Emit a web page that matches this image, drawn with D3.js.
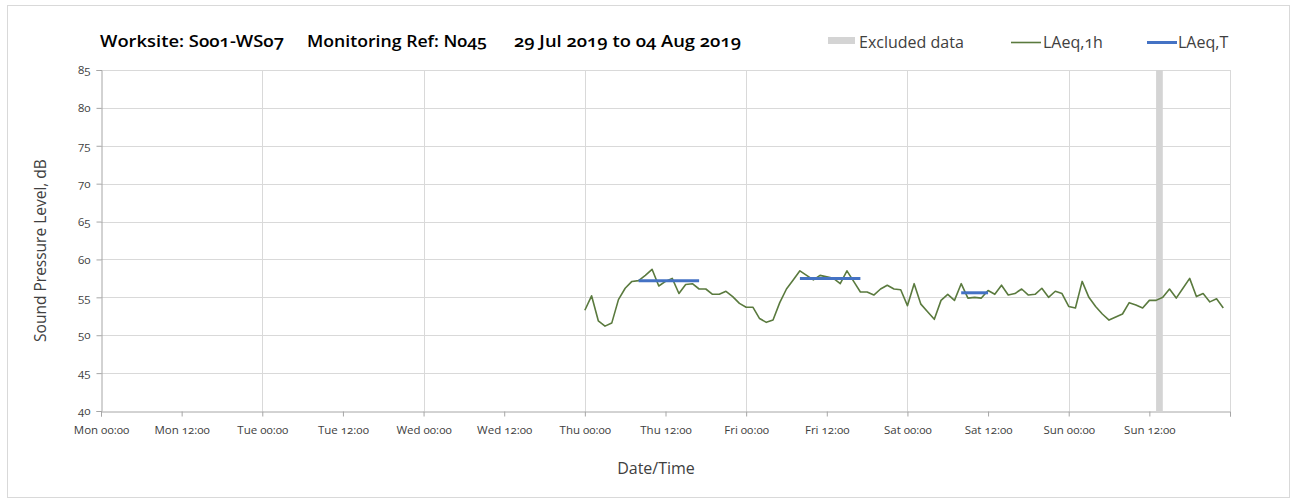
<!DOCTYPE html>
<html>
<head>
<meta charset="utf-8">
<script src="https://cdn.jsdelivr.net/npm/d3@7"></script>
<style>
  html, body { margin: 0; padding: 0; background: #fff; }
  svg text { font-family: "Open Sans", Lato, "Noto Sans", sans-serif; font-variant-numeric: oldstyle-nums; font-feature-settings: "onum" 1; }
</style>
</head>
<body>
<svg id="chart" width="1298" height="504"></svg>
<script>
// ---------------- DATA ----------------
const titleParts = ["Worksite: S001-WS07", "Monitoring Ref: N045", "29 Jul 2019 to 04 Aug 2019"];
const yLabel = "Sound Pressure Level, dB";
const xLabel = "Date/Time";
const legendLabels = ["Excluded data", "LAeq,1h", "LAeq,T"];

const xStart = "2019-07-29T00:00:00Z";
const xEnd = "2019-08-05T00:00:00Z";
const xTickLabels = ["Mon 00:00", "Mon 12:00", "Tue 00:00", "Tue 12:00", "Wed 00:00", "Wed 12:00",
  "Thu 00:00", "Thu 12:00", "Fri 00:00", "Fri 12:00", "Sat 00:00", "Sat 12:00", "Sun 00:00", "Sun 12:00", ""];
const yTicks = [40, 45, 50, 55, 60, 65, 70, 75, 80, 85];

// Hourly LAeq,1h, starting at 00:00 of each day
const dayStarts = ["2019-08-01T00:00:00Z", "2019-08-02T00:00:00Z", "2019-08-03T00:00:00Z", "2019-08-04T00:00:00Z"];
const thuValues = [53.3, 55.2, 51.9, 51.2, 51.6, 54.7, 56.2, 57.1, 57.2, 57.9, 58.7, 56.5,
                   57.1, 57.5, 55.5, 56.7, 56.8, 56.1, 56.1, 55.4, 55.4, 55.8, 55.1, 54.2];
const friValues = [53.7, 53.7, 52.2, 51.7, 52.0, 54.3, 56.1, 57.3, 58.5, 57.9, 57.3, 57.9,
                   57.7, 57.5, 56.8, 58.5, 57.1, 55.7, 55.7, 55.3, 56.1, 56.6, 56.1, 56.0];
const satValues = [53.9, 56.8, 54.1, 53.1, 52.1, 54.6, 55.4, 54.6, 56.8, 54.9, 55.0, 54.9,
                   55.9, 55.4, 56.6, 55.3, 55.5, 56.1, 55.3, 55.4, 56.2, 55.0, 55.8, 55.5];
const sunValues = [53.8, 53.6, 57.1, 55.0, 53.8, 52.8, 52.0, 52.4, 52.8, 54.3, 54.0, 53.6,
                   54.6, 54.6, 55.0, 56.1, 54.9, 56.2, 57.5, 55.1, 55.5, 54.4, 54.8, 53.6];

// LAeq,T periods
const laeqTStart = ["2019-08-01T08:00:00Z", "2019-08-02T08:00:00Z", "2019-08-03T08:00:00Z"];
const laeqTEnd   = ["2019-08-01T17:00:00Z", "2019-08-02T17:00:00Z", "2019-08-03T12:00:00Z"];
const laeqTValue = [57.2, 57.5, 55.6];

// Excluded data periods
const excludedStart = ["2019-08-04T13:00:00Z"];
const excludedEnd   = ["2019-08-04T14:00:00Z"];

// ---------------- BUILD ----------------
const allValues = [thuValues, friValues, satValues, sunValues];
const hourly = [];
allValues.forEach((vals, d) => {
  const t0 = new Date(dayStarts[d]);
  vals.forEach((v, h) => hourly.push({ t: d3.utcHour.offset(t0, h), v }));
});
const laeqT = laeqTValue.map((v, i) => ({ s: new Date(laeqTStart[i]), e: new Date(laeqTEnd[i]), v }));
const excluded = excludedStart.map((s, i) => ({ s: new Date(s), e: new Date(excludedEnd[i]) }));

const svg = d3.select("#chart");
const W = 1298, H = 504;
const m = { left: 101, right: 1230, top: 70, bottom: 411 };

const x = d3.scaleUtc().domain([new Date(xStart), new Date(xEnd)]).range([m.left, m.right]);
const y = d3.scaleLinear().domain([40, 85]).range([m.bottom, m.top]);

// outer border
svg.append("rect").attr("x", 7.5).attr("y", 5.5).attr("width", W - 16).attr("height", H - 12)
  .attr("fill", "#fff").attr("stroke", "#d9d9d9").attr("stroke-width", 1);

// horizontal grid
const gridColor = "#d9d9d9";
svg.append("g").selectAll("line").data(yTicks.filter(d => d > 40)).join("line")
  .attr("x1", m.left).attr("x2", m.right)
  .attr("y1", d => Math.round(y(d)) + 0.5).attr("y2", d => Math.round(y(d)) + 0.5)
  .attr("stroke", gridColor).attr("stroke-width", 1);

// vertical grid (days)
const dayTicks = d3.utcDay.range(new Date(xStart), d3.utcHour.offset(new Date(xEnd), 1)).slice(1);
svg.append("g").selectAll("line").data(dayTicks).join("line")
  .attr("x1", d => Math.round(x(d)) + 0.5).attr("x2", d => Math.round(x(d)) + 0.5)
  .attr("y1", m.top).attr("y2", m.bottom)
  .attr("stroke", gridColor).attr("stroke-width", 1);

// excluded band
svg.append("g").selectAll("rect").data(excluded).join("rect")
  .attr("x", d => x(d.s)).attr("width", d => x(d.e) - x(d.s))
  .attr("y", m.top).attr("height", m.bottom - m.top)
  .attr("fill", "#d4d4d4");

// axes
const axisColor = "#a6a6a6";
const tickVals = d3.utcHour.every(12).range(new Date(xStart), d3.utcHour.offset(new Date(xEnd), 1));
const xAxis = d3.axisBottom(x).tickValues(tickVals).tickSize(5).tickPadding(9)
  .tickFormat((d, i) => xTickLabels[i]);
const gx = svg.append("g").attr("transform", `translate(0,${Math.round(y(40)) + 0.5})`).call(xAxis);
gx.select(".domain").attr("stroke", axisColor);
gx.selectAll(".tick line").attr("stroke", axisColor);
gx.selectAll(".tick text").attr("fill", "#404040").attr("font-size", 11.5);

const yAxis = d3.axisLeft(y).tickValues(yTicks).tickSize(5).tickPadding(6).tickFormat(d3.format("d"));
const gy = svg.append("g").attr("transform", `translate(${m.left + 0.5},0)`).call(yAxis);
gy.select(".domain").attr("stroke", axisColor);
gy.selectAll(".tick line").attr("stroke", axisColor);
gy.selectAll(".tick text").attr("fill", "#404040").attr("font-size", 11.5);

// LAeq,1h line
const line = d3.line().x(d => x(d.t)).y(d => y(d.v));
svg.append("path").datum(hourly).attr("d", line)
  .attr("fill", "none").attr("stroke", "#5a7a3e").attr("stroke-width", 1.6).attr("stroke-linejoin", "round");

// LAeq,T lines
svg.append("g").selectAll("line").data(laeqT).join("line")
  .attr("x1", d => x(d.s)).attr("x2", d => x(d.e))
  .attr("y1", d => y(d.v)).attr("y2", d => y(d.v))
  .attr("stroke", "#4472c4").attr("stroke-width", 3);

// title
const titleX = [100, 307, 514];
const titleW = [184, 180, 227];
titleParts.forEach((t, i) => {
  svg.append("text").attr("x", titleX[i]).attr("y", 47).text(t)
    .attr("font-size", 15.5).attr("font-weight", 600).attr("fill", "#000")
    .attr("textLength", titleW[i]).attr("lengthAdjust", "spacingAndGlyphs");
});

// legend
const lg = svg.append("g");
lg.append("rect").attr("x", 828).attr("y", 37).attr("width", 27).attr("height", 7).attr("fill", "#d4d4d4");
lg.append("text").attr("x", 859).attr("y", 48).text(legendLabels[0]).attr("font-size", 16).attr("fill", "#404040");
lg.append("line").attr("x1", 1011).attr("x2", 1041).attr("y1", 42.5).attr("y2", 42.5).attr("stroke", "#5a7a3e").attr("stroke-width", 1.6);
lg.append("text").attr("x", 1043).attr("y", 48).text(legendLabels[1]).attr("font-size", 16).attr("fill", "#404040");
lg.append("line").attr("x1", 1147).attr("x2", 1177).attr("y1", 42.5).attr("y2", 42.5).attr("stroke", "#4472c4").attr("stroke-width", 3);
lg.append("text").attr("x", 1178).attr("y", 48).text(legendLabels[2]).attr("font-size", 16).attr("fill", "#404040");

// axis titles
svg.append("text").attr("transform", `translate(46,${(m.top + m.bottom) / 2 + 10}) rotate(-90)`)
  .attr("text-anchor", "middle").text(yLabel).attr("font-size", 15.5).attr("fill", "#404040");
svg.append("text").attr("x", 656).attr("y", 474).attr("text-anchor", "middle")
  .text(xLabel).attr("font-size", 16).attr("fill", "#404040");
</script>
</body>
</html>
